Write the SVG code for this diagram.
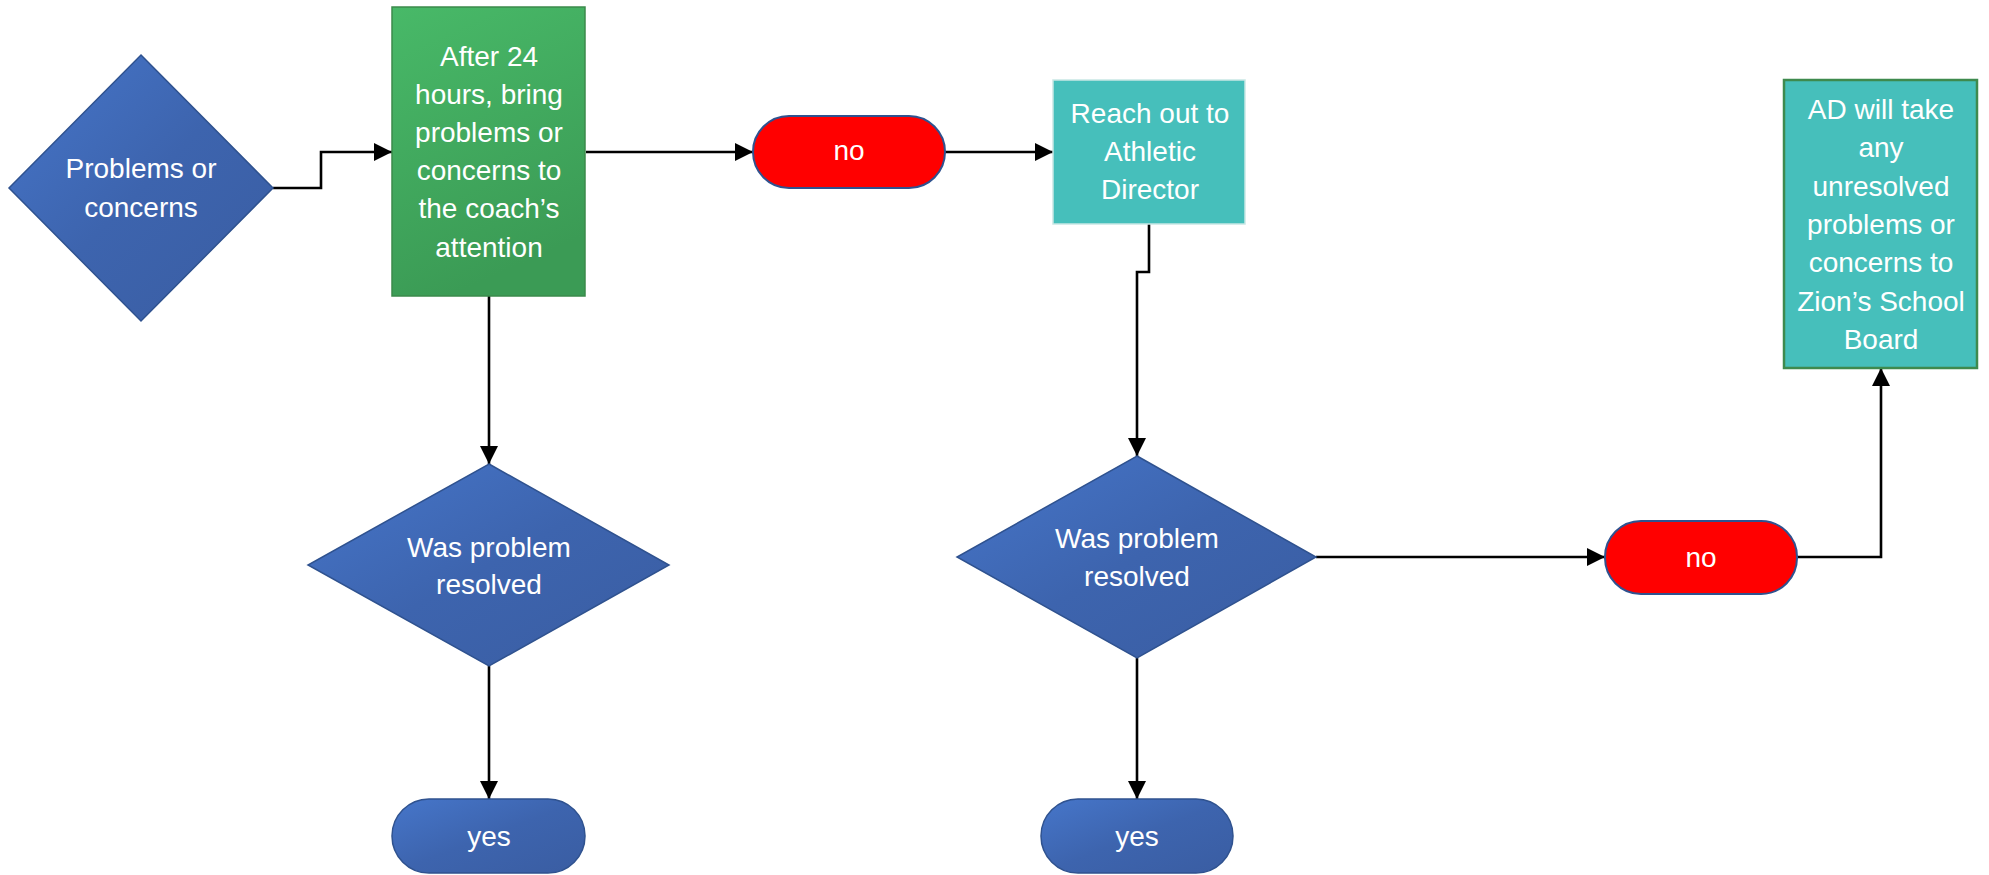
<svg xmlns="http://www.w3.org/2000/svg" width="1989" height="875" viewBox="0 0 1989 875">
<style>
  .t { font-family: "Liberation Sans", Arial, sans-serif; font-size: 28px; fill: #ffffff; text-anchor: middle; }
  .blue { fill: url(#gBlue); stroke: #2F528F; stroke-width: 1.5; }
  .green { fill: url(#gGreen); stroke: #3B8A4B; stroke-width: 1.5; }
  .red { fill: #FF0000; stroke: #2F528F; stroke-width: 2; }
  .teal { fill: #46BFBB; }
  .conn { fill: none; stroke: #000000; stroke-width: 2.6; marker-end: url(#arrow); }
</style>
<defs>
  <linearGradient id="gBlue" x1="0" y1="0" x2="1" y2="1">
    <stop offset="0" stop-color="#4676CA"/>
    <stop offset="0.5" stop-color="#3D64AE"/>
    <stop offset="1" stop-color="#3A5DA2"/>
  </linearGradient>
  <linearGradient id="gGreen" x1="0" y1="0" x2="0.3" y2="1">
    <stop offset="0" stop-color="#48B968"/>
    <stop offset="1" stop-color="#3B9B55"/>
  </linearGradient>
  <marker id="arrow" markerUnits="userSpaceOnUse" markerWidth="18" markerHeight="18" refX="18" refY="9" orient="auto">
    <path d="M0,0 L18,9 L0,18 z" fill="#000000"/>
  </marker>
</defs>
<rect x="0" y="0" width="1989" height="875" fill="#ffffff"/>

<g id="connectors">
  <path class="conn" d="M273,188 L321,188 L321,152 L392,152"/>
  <path class="conn" d="M586,152 L753,152"/>
  <path class="conn" d="M945,152 L1053,152"/>
  <path class="conn" d="M1149,224 L1149,272 L1137,272 L1137,456"/>
  <path class="conn" d="M489,296 L489,464"/>
  <path class="conn" d="M489,666 L489,799"/>
  <path class="conn" d="M1137,658 L1137,799"/>
  <path class="conn" d="M1316,557 L1605,557"/>
  <path class="conn" d="M1797,557 L1881,557 L1881,368"/>
</g>

<g id="start">
  <polygon class="blue" points="141,55 273,188 141,321 9,188"/>
  <text class="t" x="141" y="178">Problems or</text>
  <text class="t" x="141" y="217">concerns</text>
</g>

<g id="coach">
  <rect class="green" x="392" y="7" width="193" height="289"/>
  <text class="t" x="489" y="66">After 24</text>
  <text class="t" x="489" y="104">hours, bring</text>
  <text class="t" x="489" y="142">problems or</text>
  <text class="t" x="489" y="180">concerns to</text>
  <text class="t" x="489" y="218">the coach’s</text>
  <text class="t" x="489" y="257">attention</text>
</g>

<g id="no1">
  <rect class="red" x="753" y="116" width="192" height="72" rx="36" ry="36"/>
  <text class="t" x="849" y="160">no</text>
</g>

<g id="ad">
  <rect class="teal" x="1053" y="80" width="192" height="144" stroke="#C9E7E5" stroke-width="1.5"/>
  <text class="t" x="1150" y="123">Reach out to</text>
  <text class="t" x="1150" y="161">Athletic</text>
  <text class="t" x="1150" y="199">Director</text>
</g>

<g id="resolved1">
  <polygon class="blue" points="489,464 669,565 489,666 308,565"/>
  <text class="t" x="489" y="557">Was problem</text>
  <text class="t" x="489" y="594">resolved</text>
</g>

<g id="yes1">
  <rect class="blue" x="392" y="799" width="193" height="74" rx="37" ry="37"/>
  <text class="t" x="489" y="846">yes</text>
</g>

<g id="resolved2">
  <polygon class="blue" points="1137,456 1316,557 1137,658 957,557"/>
  <text class="t" x="1137" y="548">Was problem</text>
  <text class="t" x="1137" y="586">resolved</text>
</g>

<g id="yes2">
  <rect class="blue" x="1041" y="799" width="192" height="74" rx="37" ry="37"/>
  <text class="t" x="1137" y="846">yes</text>
</g>

<g id="no2">
  <rect class="red" x="1605" y="521" width="192" height="73" rx="36" ry="36"/>
  <text class="t" x="1701" y="567">no</text>
</g>

<g id="board">
  <rect class="teal" x="1784" y="80" width="193" height="288" stroke="#3E8A4E" stroke-width="2.5"/>
  <text class="t" x="1881" y="119">AD will take</text>
  <text class="t" x="1881" y="157">any</text>
  <text class="t" x="1881" y="196">unresolved</text>
  <text class="t" x="1881" y="234">problems or</text>
  <text class="t" x="1881" y="272">concerns to</text>
  <text class="t" x="1881" y="311">Zion’s School</text>
  <text class="t" x="1881" y="349">Board</text>
</g>
</svg>
